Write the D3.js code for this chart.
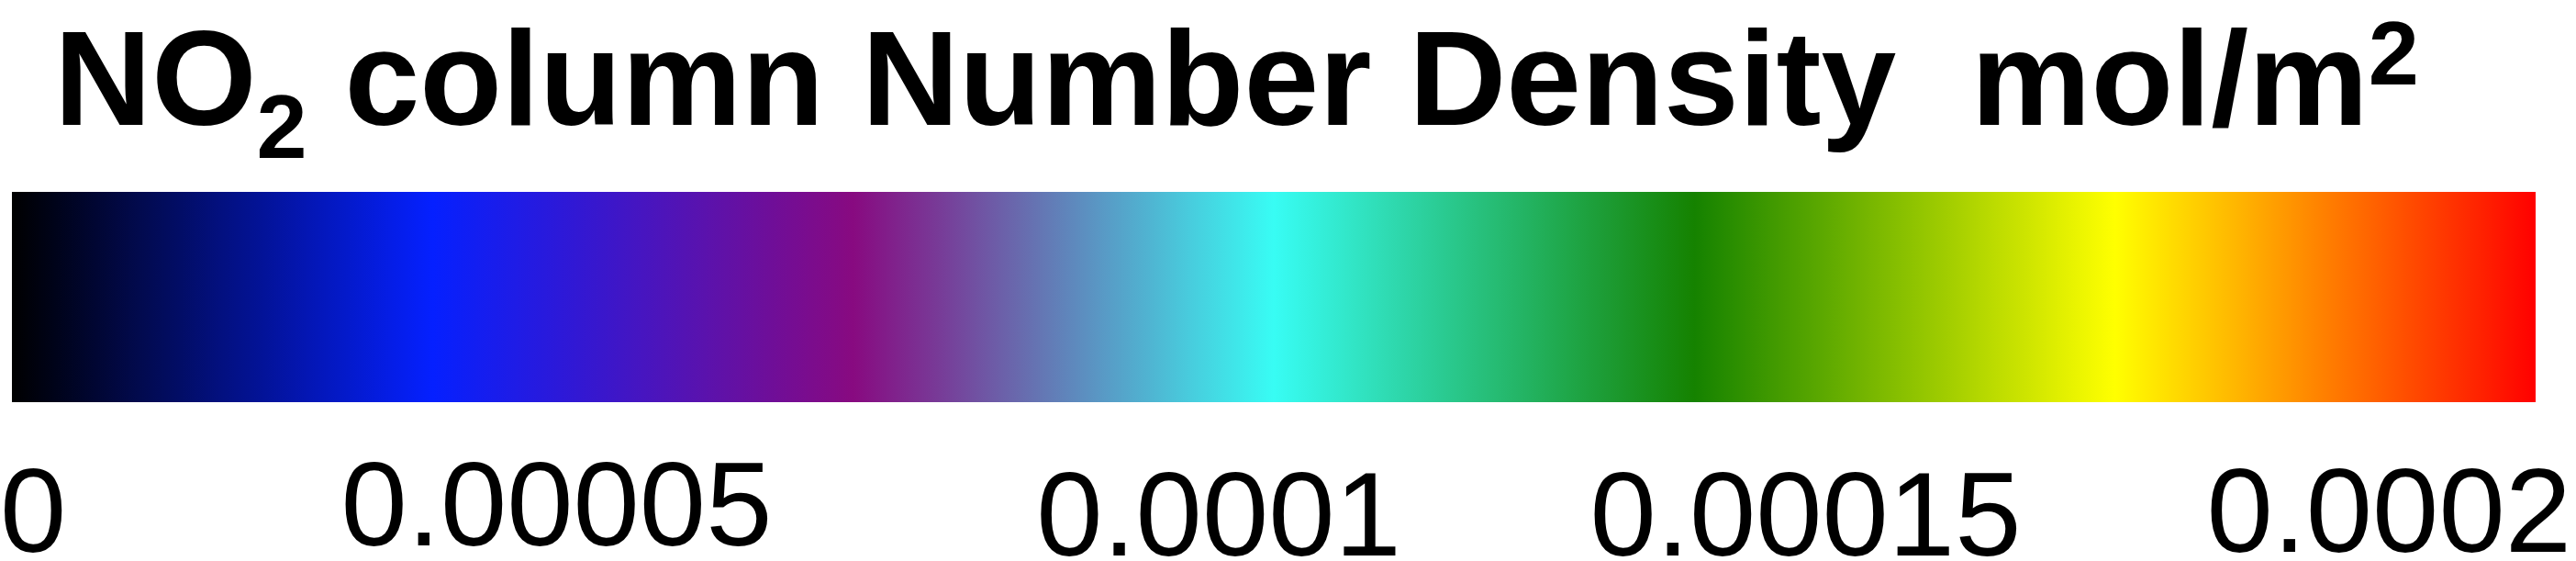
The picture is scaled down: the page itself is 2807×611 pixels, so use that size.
<!DOCTYPE html>
<html>
<head>
<meta charset="utf-8">
<script src="https://cdn.jsdelivr.net/npm/d3@7"></script>
<style>
  html, body { margin: 0; padding: 0; background: #ffffff; }
  svg { display: block; }
</style>
</head>
<body>
<svg id="chart" width="2807" height="611"></svg>
<script>
// ---- data ----
const domainMin = 0;
const domainMax = 0.0002;
const tickValues = [0, 0.00005, 0.0001, 0.00015, 0.0002];
const tickLabels = ["0", "0.00005", "0.0001", "0.00015", "0.0002"];
const colorStops = ["#000000", "#0520ff", "#880a80", "#38fcf4", "#158200", "#ffff00", "#ff0000"];
const titleMain = "NO";
const titleSub = "2";
const titleRest = " column Number Density  mol/m";
const titleSup = "2";

// ---- layout ----
const W = 2807, H = 611;
const bar = { x0: 13, x1: 2763, y0: 209, y1: 438 };
const labelAnchor = ["start", "middle", "middle", "middle", "end"];
const labelNudgeX = [-13, -94, -60, -108, 39];
const labelBaseline = [601, 594, 605, 605, 601];

const svg = d3.select("#chart");

const x = d3.scaleLinear().domain([domainMin, domainMax]).range([bar.x0, bar.x1]);
const stopValues = d3.range(colorStops.length).map(i => domainMin + (domainMax - domainMin) * i / (colorStops.length - 1));
const color = d3.scaleLinear().domain(stopValues).range(colorStops).interpolate(d3.interpolateRgb);

// gradient sampled from the color scale
const defs = svg.append("defs");
const grad = defs.append("linearGradient")
  .attr("id", "cbar")
  .attr("x1", "0%").attr("x2", "100%").attr("y1", "0%").attr("y2", "0%");
const samples = d3.range(0, 61).map(i => domainMin + (domainMax - domainMin) * i / 60);
grad.selectAll("stop")
  .data(samples)
  .join("stop")
  .attr("offset", d => ((x(d) - bar.x0) / (bar.x1 - bar.x0) * 100) + "%")
  .attr("stop-color", d => color(d));

svg.append("rect")
  .attr("x", x(domainMin))
  .attr("y", bar.y0)
  .attr("width", x(domainMax) - x(domainMin))
  .attr("height", bar.y1 - bar.y0)
  .attr("fill", "url(#cbar)");

// title
const title = svg.append("text")
  .attr("x", 59)
  .attr("y", 136)
  .attr("xml:space", "preserve")
  .style("white-space", "pre")
  .attr("font-family", "'Liberation Sans', Arial, sans-serif")
  .attr("font-weight", "bold")
  .attr("font-size", 147)
  .attr("fill", "#000");
title.append("tspan").text(titleMain);
title.append("tspan").attr("font-size", 99).attr("dy", 36).text(titleSub);
title.append("tspan").attr("dy", -36).text(titleRest);
title.append("tspan").attr("font-size", 99).attr("dy", -44).text(titleSup);

// tick labels
svg.append("g")
  .selectAll("text")
  .data(tickValues)
  .join("text")
  .attr("x", (d, i) => x(d) + labelNudgeX[i])
  .attr("y", (d, i) => labelBaseline[i])
  .attr("text-anchor", (d, i) => labelAnchor[i])
  .attr("font-family", "'Liberation Sans', Arial, sans-serif")
  .attr("font-size", 130)
  .attr("fill", "#000")
  .text((d, i) => tickLabels[i]);
</script>
</body>
</html>
